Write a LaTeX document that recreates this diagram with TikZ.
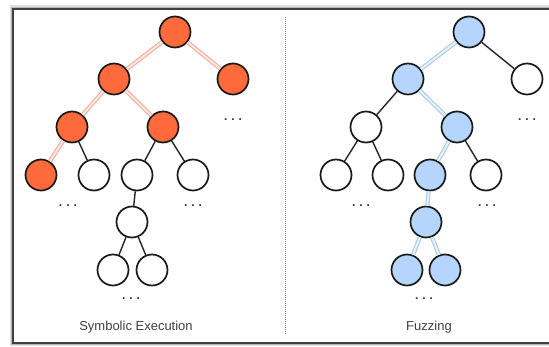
\documentclass[tikz,border=0pt]{standalone}
\usepackage{fontspec}
\setmainfont{Liberation Sans}
\definecolor{rouge}{HTML}{FF6A3D}
\definecolor{bleu}{HTML}{B5D5FC}
\definecolor{rose}{HTML}{F4AE9E}
\definecolor{rosepale}{HTML}{FDE6DF}
\definecolor{ciel}{HTML}{A9CCDD}
\definecolor{cielpale}{HTML}{E6F2F8}
\begin{document}
\begin{tikzpicture}[x=1pt,y=-1pt]
  \tikzstyle{noeud}=[circle, draw=black!90, line width=1.7pt, fill=white,
  minimum size=31pt, inner sep=0pt]
  \tikzstyle{rouge}=[noeud, fill=rouge]
  \tikzstyle{bleu}=[noeud, fill=bleu]
  \tikzstyle{arete}=[draw=black!85, line width=1.4pt]
  \tikzstyle{cheminse}=[draw=rose, double=rosepale, line width=1.1pt,
  double distance=2pt]
  \tikzstyle{cheminfz}=[draw=ciel, double=cielpale, line width=1.1pt,
  double distance=2pt]
  \tikzstyle{points}=[font=\bfseries\large, inner sep=0pt, text=black!80]
  \tikzstyle{titre}=[font=\fontsize{13}{15}\selectfont, text=black!75]
  \useasboundingbox (0,0) rectangle (549,347);
  \clip (0,0) rectangle (549,347);
  % cadre
  \fill[white] (0,0) rectangle (549,347);
  \draw[gray!25, line width=7pt] (13,9) rectangle (600,343);
  \draw[gray!55, line width=3.5pt] (13,9) rectangle (600,343);
  \draw[black!75, line width=1.6pt] (13,9) rectangle (600,343);
  \fill[white] (14,10) rectangle (600,342);
  \draw[gray, line width=1pt, dash pattern=on 1pt off 1pt] (285,17) -- (285,335);
  % execution symbolique
  \foreach \n/\x/\y/\s in {s1/175/32/rouge,s2/114/79/rouge,s3/233/79/rouge,
    s4/72/127/rouge,s5/163/127/rouge,s6/41/175/rouge,s7/94/175/noeud,
    s8/137/175/noeud,s9/193/175/noeud,s10/132/222/noeud,s11/113/270/noeud,
    s12/152/270/noeud} {
    \draw (\x,\y) node[\s] (\n) {};
  }
  \foreach \a/\b in {s1/s2,s1/s3,s2/s4,s2/s5,s4/s6} {
    \draw[cheminse] (\a) -- (\b);
  }
  \foreach \a/\b in {s4/s7,s5/s8,s5/s9,s8/s10,s10/s11,s10/s12} {
    \draw[arete] (\a) -- (\b);
  }
  % fuzzing
  \foreach \n/\x/\y/\s in {f1/469/32/bleu,f2/408/79/bleu,f3/527/79/noeud,
    f4/366/127/noeud,f5/457/127/bleu,f6/336/175/noeud,f7/388/175/noeud,
    f8/430/175/bleu,f9/486/175/noeud,f10/426/222/bleu,f11/407/270/bleu,
    f12/445/270/bleu} {
    \draw (\x,\y) node[\s] (\n) {};
  }
  \foreach \a/\b in {f1/f2,f2/f5,f5/f8,f8/f10,f10/f11,f10/f12} {
    \draw[cheminfz] (\a) -- (\b);
  }
  \foreach \a/\b in {f1/f3,f2/f4,f4/f6,f4/f7,f5/f9} {
    \draw[arete] (\a) -- (\b);
  }
  % points de suspension
  \foreach \n/\x/\y in {p1/233/120,p2/68/206,p3/193/206,p4/131/299,
    p5/527/120,p6/361/206,p7/487/206,p8/424/299} {
    \node[points] (\n) at (\x,\y) {.\hspace{4pt}.\hspace{4pt}.};
  }
  \node[titre] (se) at (136,327) {Symbolic Execution};
  \node[titre] (fz) at (429,327) {Fuzzing};
\end{tikzpicture}
\end{document}
